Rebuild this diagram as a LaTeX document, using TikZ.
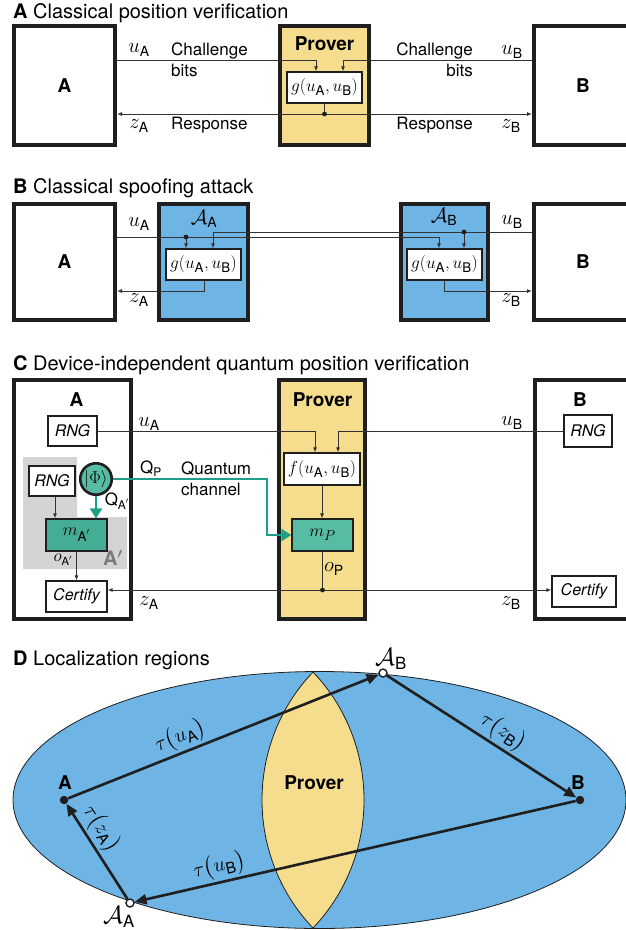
\documentclass[tikz,border=0pt]{standalone}
\usepackage{fontspec}
\setmainfont{TeX Gyre Heros}
\usepackage{amsmath}
\usetikzlibrary{arrows.meta,calc}
\definecolor{ink}{HTML}{1F1F1F}
\definecolor{wirec}{HTML}{333333}
\definecolor{provery}{HTML}{F5DD8D}
\definecolor{advblue}{HTML}{6EB4E4}
\definecolor{tealc}{HTML}{58BBA4}
\definecolor{tealdark}{HTML}{45AD95}
\definecolor{qteal}{HTML}{1E9F87}
\definecolor{greyreg}{HTML}{D4D4D4}
\definecolor{primegrey}{HTML}{7B7B7B}
\newcommand{\sA}{\text{A}}
\newcommand{\sB}{\text{B}}
\begin{document}
\begin{tikzpicture}[x=1pt,y=-1pt,
  frame/.style={draw=ink, line width=4pt, inner sep=0pt, font=\fontsize{19}{22}\selectfont\bfseries},
  proverbox/.style={frame, fill=provery},
  advbox/.style={frame, fill=advblue},
  fnbox/.style={draw=ink, line width=1.2pt, fill=white, inner sep=0pt, font=\fontsize{19}{22}\selectfont},
  rngbox/.style={fnbox, font=\fontsize{16}{19}\selectfont\itshape},
  wire/.style={draw=wirec, line width=0.9pt},
  wtip/.style={-{Latex[length=5pt,width=4pt]}},
  qwire/.style={draw=qteal, line width=2.4pt, -{Triangle[length=10pt,width=12pt]}},
  lbl/.style={inner sep=0pt, font=\fontsize{17}{21}\selectfont},
  mlbl/.style={inner sep=0pt, font=\fontsize{20}{22}\selectfont},
  boldlbl/.style={inner sep=0pt, font=\fontsize{19}{22}\selectfont\bfseries},
  title/.style={inner sep=0pt, anchor=base west, font=\fontsize{20}{22}\selectfont},
  junction/.style={fill=ink},
  fulldot/.style={circle, fill=ink, minimum size=8.5pt, inner sep=0pt},
  opendot/.style={circle, draw=ink, fill=white, line width=1.4pt, minimum size=8pt, inner sep=0pt},
  heavy/.style={draw=ink, line width=2.6pt, -{Triangle[length=12pt,width=10pt]}},
  taulbl/.style={inner sep=2pt, font=\fontsize{22}{24}\selectfont}
]
\useasboundingbox (0,0) rectangle (626,930);

% ---------------- A: classical position verification ----------------
\node[title] (tA) at (13,18) {\textbf{A} Classical position verification};
\node[frame, minimum width=101pt, minimum height=119pt] (A1) at (64.5,85.5) {A};
\node[proverbox, minimum width=89pt, minimum height=119pt] (P1) at (324.5,85.5) {};
\node[boldlbl] (P1l) at (324.5,44) {Prover};
\node[fnbox, minimum width=75pt, minimum height=31pt] (g1) at (324.5,87.5) {$g(u_{\sA},u_{\sB})$};
\node[frame, minimum width=98pt, minimum height=119pt] (B1) at (583,85.5) {B};

\draw[wire, wtip] (A1.east |- 0,60) -| (316,0 |- g1.north);
\draw[wire, wtip] (B1.west |- 0,60) -| (343,0 |- g1.north);
\coordinate (r1) at (g1.south |- 0,114);
\draw[wire] (g1.south) -- (r1);
\draw[wire, wtip] (r1) -- (A1.east |- r1);
\draw[wire, wtip] (r1) -- (B1.west |- r1);
\fill[junction] (r1) circle[radius=2.4pt];

\node[mlbl] (uA1) at (139,50) {$u_{\sA}$};
\node[lbl, anchor=west, align=left] (ch1) at (171,59.5) {Challenge\\bits};
\node[mlbl] (zA1) at (139,126) {$z_{\sA}$};
\node[lbl, anchor=west] (re1) at (171,125) {Response};
\node[lbl, anchor=east, align=right] (ch2) at (473,59.5) {Challenge\\bits};
\node[mlbl] (uB1) at (512,52) {$u_{\sB}$};
\node[lbl, anchor=east] (re2) at (473,125) {Response};
\node[mlbl] (zB1) at (511,126) {$z_{\sB}$};

% ---------------- B: classical spoofing attack ----------------
\node[title] (tB) at (13,193) {\textbf{B} Classical spoofing attack};
\node[frame, minimum width=101pt, minimum height=116pt] (A2) at (64.5,262) {A};
\node[advbox, minimum width=89pt, minimum height=116pt] (EA) at (203.5,262) {};
\node[mlbl] (EAl) at (204,219) {$\mathcal{A}_{\sA}$};
\node[fnbox, minimum width=75pt, minimum height=31pt] (gA) at (203.5,264.5) {$g(u_{\sA},u_{\sB})$};
\node[advbox, minimum width=87pt, minimum height=116pt] (EB) at (444.5,262) {};
\node[mlbl] (EBl) at (444,217) {$\mathcal{A}_{\sB}$};
\node[fnbox, minimum width=75pt, minimum height=31pt] (gB) at (444.5,264.5) {$g(u_{\sA},u_{\sB})$};
\node[frame, minimum width=98pt, minimum height=116pt] (B2) at (583,262) {B};

\coordinate (jA) at (186,237);
\coordinate (jB) at (464,232);
\draw[wire] (A2.east |- jA) -- (jA);
\draw[wire, wtip] (jA) -| (439,0 |- gB.north);
\draw[wire, wtip] (jA) -- (jA |- gA.north);
\draw[wire] (B2.west |- jB) -- (jB);
\draw[wire, wtip] (jB) -| (213,0 |- gA.north);
\draw[wire, wtip] (jB) -- (jB |- gB.north);
\draw[wire, wtip] (204,0 |- gA.south) |- (A2.east |- 0,291);
\draw[wire, wtip] (444,0 |- gB.south) |- (B2.west |- 0,291);
\fill[junction] (jA) circle[radius=2.4pt];
\fill[junction] (jB) circle[radius=2.4pt];

\node[mlbl] (uA2) at (139,224) {$u_{\sA}$};
\node[mlbl] (zA2) at (139,300) {$z_{\sA}$};
\node[mlbl] (uB2) at (512,222) {$u_{\sB}$};
\node[mlbl] (zB2) at (511,300) {$z_{\sB}$};

% ---------------- C: device-independent quantum PV ----------------
\node[title] (tC) at (13,370) {\textbf{C} Device-independent quantum position verification};
\node[frame, minimum width=117pt, minimum height=239pt] (A3) at (72.5,499.5) {};
\node[boldlbl] (A3l) at (76.5,400) {A};
\fill[greyreg] (23,457) -- (77,457) -- (77,517) -- (127,517) -- (127,569) -- (23,569) -- cycle;
\node[boldlbl, text=primegrey, font=\fontsize{20}{22}\selectfont\bfseries] (Apl) at (113,558) {A$\boldsymbol{'}$};

\node[rngbox, minimum width=49pt, minimum height=30pt] (R1) at (72.5,431) {RNG};
\node[rngbox, minimum width=46pt, minimum height=30pt] (R2) at (52,481) {RNG};
\node[circle, draw=ink, line width=2.6pt, fill=tealc, minimum size=31.5pt, inner sep=0pt,
      font=\fontsize{19}{21}\selectfont] (phi) at (96,479) {$|\Phi\rangle$};
\node[fnbox, fill=tealdark, minimum width=61pt, minimum height=32pt] (mA) at (76.5,535) {$m_{\sA'}$};
\node[rngbox, minimum width=61pt, minimum height=31pt] (cA) at (76.5,596.5) {Certify};

\node[proverbox, minimum width=86pt, minimum height=239pt] (P3) at (322,499.5) {};
\node[boldlbl] (P3l) at (322.5,400) {Prover};
\node[fnbox, minimum width=76pt, minimum height=32pt] (f3) at (322,469) {$f(u_{\sA},u_{\sB})$};
\node[fnbox, fill=tealc, minimum width=61pt, minimum height=32pt] (mP) at (322.5,535) {$m_P$};

\node[frame, minimum width=98pt, minimum height=239pt] (B3) at (584,499.5) {};
\node[boldlbl] (B3l) at (580,400) {B};
\node[rngbox, minimum width=48pt, minimum height=32pt] (R3) at (588,431) {RNG};
\node[rngbox, minimum width=64pt, minimum height=31pt] (cB) at (584,591.5) {Certify};

\draw[wire, wtip] (55,0 |- R2.south) -- (55,0 |- mA.north);
\draw[wire, wtip] (mA.south) -- (cA.north);
\draw[qwire] (phi.south) -- (phi.south |- mA.north);
\draw[qwire] (phi.east) -| (267,0 |- mP.west) -- (mP.west);

\draw[wire, wtip] (R1.east) -| (315,0 |- f3.north);
\draw[wire, wtip] (R3.west) -| (338,0 |- f3.north);
\draw[wire, wtip] (f3.south) -- (f3.south |- mP.north);
\coordinate (r3) at (mP.south |- 0,590);
\draw[wire] (mP.south) -- (r3);
\draw[wire, wtip] (r3) -- (cA.east |- r3);
\draw[wire, wtip] (r3) -- (cB.west |- r3);
\fill[junction] (r3) circle[radius=2.4pt];

\node[mlbl] (uA3) at (149,424) {$u_{\sA}$};
\node[mlbl] (uB3) at (512,423) {$u_{\sB}$};
\node[lbl] (QP) at (151,469) {$\text{Q}_{\text{P}}$};
\node[lbl, anchor=west, align=left] (qch) at (181,479) {Quantum\\channel};
\node[lbl] (QA) at (117,501) {$\text{Q}_{\sA'}$};
\node[mlbl, font=\fontsize{16}{18}\selectfont] (oA) at (63,560) {$o_{\sA'}$};
\node[mlbl] (oP) at (334,569) {$o_{\text{P}}$};
\node[mlbl] (zA3) at (149,603) {$z_{\sA}$};
\node[mlbl] (zB3) at (511,603) {$z_{\sB}$};

% ---------------- D: localization regions ----------------
\node[title] (tD) at (13,665) {\textbf{D} Localization regions};
\fill[advblue] (319.5,800) ellipse [x radius=306.5, y radius=128.5];
\begin{scope}
  \clip (319.5,800) ellipse [x radius=306.5, y radius=128.5];
  \draw[fill=provery, draw=ink, line width=0.8pt]
    (313,672) .. controls (280.06,706.43) and (262,752.44) .. (262,800)
              .. controls (262,847.56) and (280.06,893.57) .. (313,928)
              .. controls (345.94,893.57) and (364,847.56) .. (364,800)
              .. controls (364,752.44) and (345.94,706.43) .. (313,672) -- cycle;
\end{scope}
\draw[ink, line width=0.8pt] (319.5,800) ellipse [x radius=306.5, y radius=128.5];
\node[boldlbl] (PDl) at (314,783) {Prover};

\node[fulldot] (pA) at (64,800) {};
\node[fulldot] (pB) at (580,800) {};
\node[opendot] (pAA) at (130,903) {};
\node[opendot] (pAB) at (383,673) {};
\node[boldlbl] (pAl) at (65,783) {A};
\node[boldlbl] (pBl) at (578,783) {B};
\node[mlbl, font=\fontsize{24}{26}\selectfont] (pAAl) at (119,917) {$\mathcal{A}_{\sA}$};
\node[mlbl, font=\fontsize{24}{26}\selectfont] (pABl) at (391,659) {$\mathcal{A}_{\sB}$};

\draw[heavy] (pA) -- node[taulbl, sloped, above, pos=0.38] {$\tau\bigl(u_{\sA}\bigr)$} (pAB);
\draw[heavy] (pAB) -- node[taulbl, sloped, above, pos=0.57] {$\tau\bigl(z_{\sB}\bigr)$} (pB);
\draw[heavy] (pB) -- node[taulbl, sloped, above, pos=0.8] {$\tau\bigl(u_{\sB}\bigr)$} (pAA);
\draw[heavy] (pAA) -- node[taulbl, sloped, above, pos=0.65] {$\tau\bigl(z_{\sA}\bigr)$} (pA);
\end{tikzpicture}
\end{document}
